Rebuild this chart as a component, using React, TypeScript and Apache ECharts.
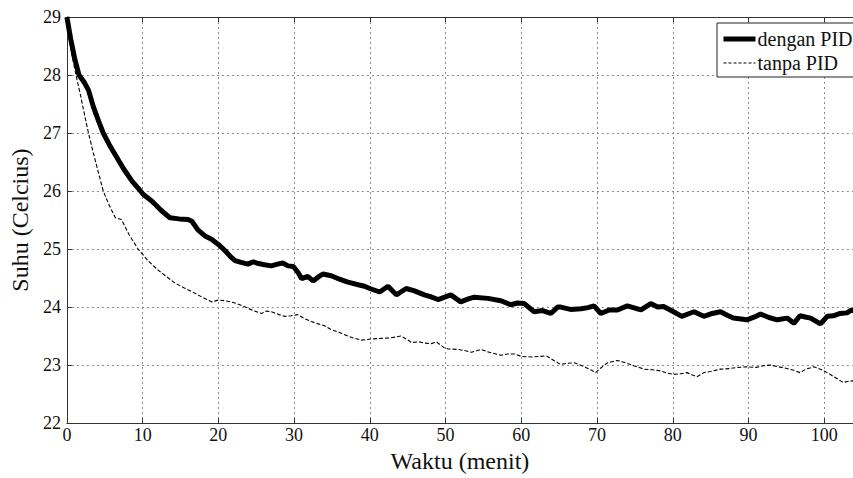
import React, { useEffect, useRef } from "react";
import * as echarts from "echarts";

const xTicks = [0, 10, 20, 30, 40, 50, 60, 70, 80, 90, 100];
const yTicks = [22, 23, 24, 25, 26, 27, 28, 29];

const pidMinutes = [
  0, 0.5, 1, 1.6, 2.3, 2.85, 3.5, 4.2, 4.8, 5.6, 6.4, 7.5, 8.6, 9.4, 10.1, 11.2, 12.5, 13.6, 14.8, 16.0,
  16.5, 17.3, 18.3, 19.1, 20.0, 20.9, 21.6, 22.2, 23.0, 23.9, 24.6, 25.3, 26.1, 27.0, 27.8, 28.5, 29.2, 29.9,
  30.5, 31.0, 31.8, 32.5, 33.2, 33.8, 34.9, 36.0, 37.1, 38.6, 39.3, 40.0, 41.3, 42.4, 43.5, 44.8, 45.9, 47.2,
  48.0, 49.0, 50.7, 52.0, 53.0, 53.8, 55.6, 57.3, 58.6, 59.5, 60.4, 61.7, 62.8, 63.9, 64.8, 65.2, 66.5, 67.9,
  68.8, 69.6, 70.5, 71.6, 72.7, 74.0, 75.8, 77.1, 78.0, 78.8, 80.1, 81.2, 82.0, 82.8, 84.1, 85.2, 86.3, 87.2,
  88.0, 89.8, 90.8, 91.6, 92.7, 93.8, 95.1, 96.0, 96.8, 97.5, 98.2, 99.5, 100.4, 101.2, 102.1, 103.0, 103.6, 104,
];
const pidSuhu = [
  29.0, 28.62, 28.3, 28.0, 27.87, 27.74, 27.45, 27.2, 27.0, 26.8, 26.62, 26.38, 26.17, 26.05, 25.94, 25.83, 25.66, 25.54, 25.52, 25.51,
  25.48, 25.33, 25.22, 25.17, 25.08, 24.97, 24.87, 24.8, 24.77, 24.74, 24.78, 24.75, 24.73, 24.71, 24.74, 24.76, 24.71, 24.7,
  24.6, 24.49, 24.53, 24.45, 24.52, 24.57, 24.54, 24.48, 24.43, 24.38, 24.36, 24.32, 24.26, 24.36, 24.21, 24.32, 24.28, 24.21,
  24.18, 24.13, 24.21, 24.09, 24.14, 24.17, 24.15, 24.11, 24.04, 24.07, 24.06, 23.92, 23.94, 23.89, 24.0, 24.0, 23.96, 23.97,
  23.99, 24.02, 23.89, 23.95, 23.95, 24.02, 23.95, 24.06, 24.0, 24.01, 23.92, 23.84, 23.88, 23.92, 23.84, 23.89, 23.92, 23.86,
  23.81, 23.78, 23.83, 23.88, 23.82, 23.78, 23.81, 23.72, 23.85, 23.83, 23.81, 23.71, 23.84, 23.85, 23.89, 23.9, 23.95, 23.93,
];

const noPidMinutes = [
  0, 0.5, 1.2, 1.8, 2.3, 2.85, 3.5, 4.2, 4.8, 5.6, 6.4, 7.2, 8.2, 9.4, 10.7, 12.1, 13.2, 14.3, 15.5, 16.9,
  18.0, 19.1, 20.0, 20.9, 22.2, 23.0, 23.9, 24.8, 25.7, 26.3, 27.0, 28.0, 28.8, 29.6, 30.5, 31.4, 32.3, 33.2,
  34.0, 34.9, 36.0, 37.1, 38.0, 38.9, 40.2, 41.5, 42.8, 44.1, 44.8, 45.5, 46.5, 47.2, 48.1, 48.8, 49.8, 50.3,
  51.6, 52.5, 53.4, 54.7, 55.5, 56.4, 57.3, 58.2, 59.1, 60.0, 61.3, 62.6, 63.3, 64.3, 65.2, 66.0, 67.0, 68.5,
  69.3, 69.8, 70.5, 71.4, 72.7, 73.5, 74.4, 75.3, 76.2, 77.3, 78.4, 79.3, 80.1, 81.0, 81.9, 82.6, 83.2, 84.1,
  85.0, 86.3, 87.5, 88.6, 89.8, 91.0, 92.0, 92.9, 94.0, 95.1, 96.0, 96.8, 97.6, 98.6, 99.5, 100.4, 101.4, 102.5, 103.2, 104,
];
const noPidSuhu = [
  29.0, 28.45, 28.0, 27.65, 27.33, 27.0, 26.65, 26.3, 26.0, 25.75, 25.54, 25.51, 25.25, 25.0, 24.8, 24.63, 24.52, 24.41, 24.33, 24.24,
  24.16, 24.09, 24.12, 24.11, 24.07, 24.03, 23.98, 23.93, 23.89, 23.93, 23.92, 23.87, 23.84, 23.85, 23.87, 23.8, 23.75, 23.71,
  23.68, 23.61, 23.56, 23.5, 23.46, 23.43, 23.45, 23.46, 23.47, 23.5, 23.45, 23.39, 23.4, 23.38, 23.37, 23.4, 23.3, 23.28,
  23.27, 23.25, 23.22, 23.27, 23.23, 23.2, 23.17, 23.19, 23.19, 23.15, 23.14, 23.15, 23.16, 23.08, 23.01, 23.03, 23.04, 22.96,
  22.91, 22.87, 22.95, 23.04, 23.08, 23.05, 23.01, 22.97, 22.93, 22.92, 22.9, 22.86, 22.84, 22.85, 22.87, 22.83, 22.8, 22.87,
  22.89, 22.93, 22.94, 22.96, 22.97, 22.96, 22.99, 23.0, 22.97, 22.94, 22.91, 22.87, 22.93, 22.97, 22.93, 22.87, 22.79, 22.7, 22.72, 22.73,
];

const zip = (xs: number[], ys: number[]) => xs.map((x, i) => [x, ys[i]]);

const FONT = "'Liberation Serif', 'Times New Roman', Times, serif";

export default function App() {
  const ref = useRef<HTMLDivElement>(null);
  useEffect(() => {
    if (!ref.current) return;
    const chart = echarts.init(ref.current, undefined, { renderer: "svg" });
    const gridLine = { show: true, lineStyle: { color: "#8a8a8a", type: [2, 3] as any, width: 1 } };
    const axisLine = { show: true, lineStyle: { color: "#333", width: 1 } };
    const axisTick = { show: true, inside: true, length: 5, lineStyle: { color: "#333" } };
    chart.setOption({
      animation: false,
      backgroundColor: "#fff",
      grid: { left: 65, right: 0, top: 17, bottom: 50, containLabel: false },
      xAxis: [
        {
          type: "value",
          min: 0,
          max: 103.8,
          interval: 10,
          name: "Waktu (menit)",
          nameLocation: "middle",
          nameGap: 25,
          nameTextStyle: { fontFamily: FONT, fontSize: 24, color: "#111" },
          axisLine,
          axisTick,
          splitLine: gridLine,
          axisLabel: {
            margin: 3,
            fontFamily: FONT,
            fontSize: 18,
            color: "#111",
            showMaxLabel: false,
            formatter: (v: number) => (xTicks.includes(v) ? String(v) : ""),
          },
        },
        {
          type: "value",
          position: "top",
          min: 0,
          max: 103.8,
          interval: 10,
          axisLine,
          axisTick,
          splitLine: { show: false },
          axisLabel: { show: false },
        },
      ],
      yAxis: {
        type: "value",
        min: 22,
        max: 29,
        interval: 1,
        name: "Suhu (Celcius)",
        nameLocation: "middle",
        nameGap: 28,
        nameTextStyle: { fontFamily: FONT, fontSize: 24, color: "#111" },
        axisLine,
        axisTick,
        splitLine: gridLine,
        axisLabel: {
          margin: 6,
          fontFamily: FONT,
          fontSize: 18,
          color: "#111",
          formatter: (v: number) => (yTicks.includes(v) ? String(v) : ""),
        },
      },
      legend: {
        orient: "vertical",
        left: 717,
        top: 23,
        padding: [6, 20, 4, 4],
        itemGap: 4,
        itemWidth: 32,
        itemHeight: 20,
        backgroundColor: "#fff",
        borderColor: "#222",
        borderWidth: 1,
        borderRadius: 0,
        itemStyle: { opacity: 0 },
        textStyle: { fontFamily: FONT, fontSize: 20, color: "#111", padding: [0, 0, 0, -3] },
        data: [
          { name: "dengan PID", lineStyle: { width: 5, color: "#000", type: "solid" } },
          { name: "tanpa PID", lineStyle: { width: 1, color: "#000", type: [3, 2] } },
        ],
      },
      series: [
        {
          name: "tanpa PID",
          type: "line",
          symbol: "none",
          data: zip(noPidMinutes, noPidSuhu),
          lineStyle: { color: "#000", width: 1.1, type: [4, 2] },
          itemStyle: { color: "#000" },
        },
        {
          name: "dengan PID",
          type: "line",
          symbol: "none",
          data: zip(pidMinutes, pidSuhu),
          lineStyle: { color: "#000", width: 5 },
          itemStyle: { color: "#000" },
        },
      ],
    });
    return () => chart.dispose();
  }, []);
  return (
    <div
      ref={ref}
      style={{ position: "absolute", left: 0, top: 0, width: 853, height: 478 }}
    />
  );
}
